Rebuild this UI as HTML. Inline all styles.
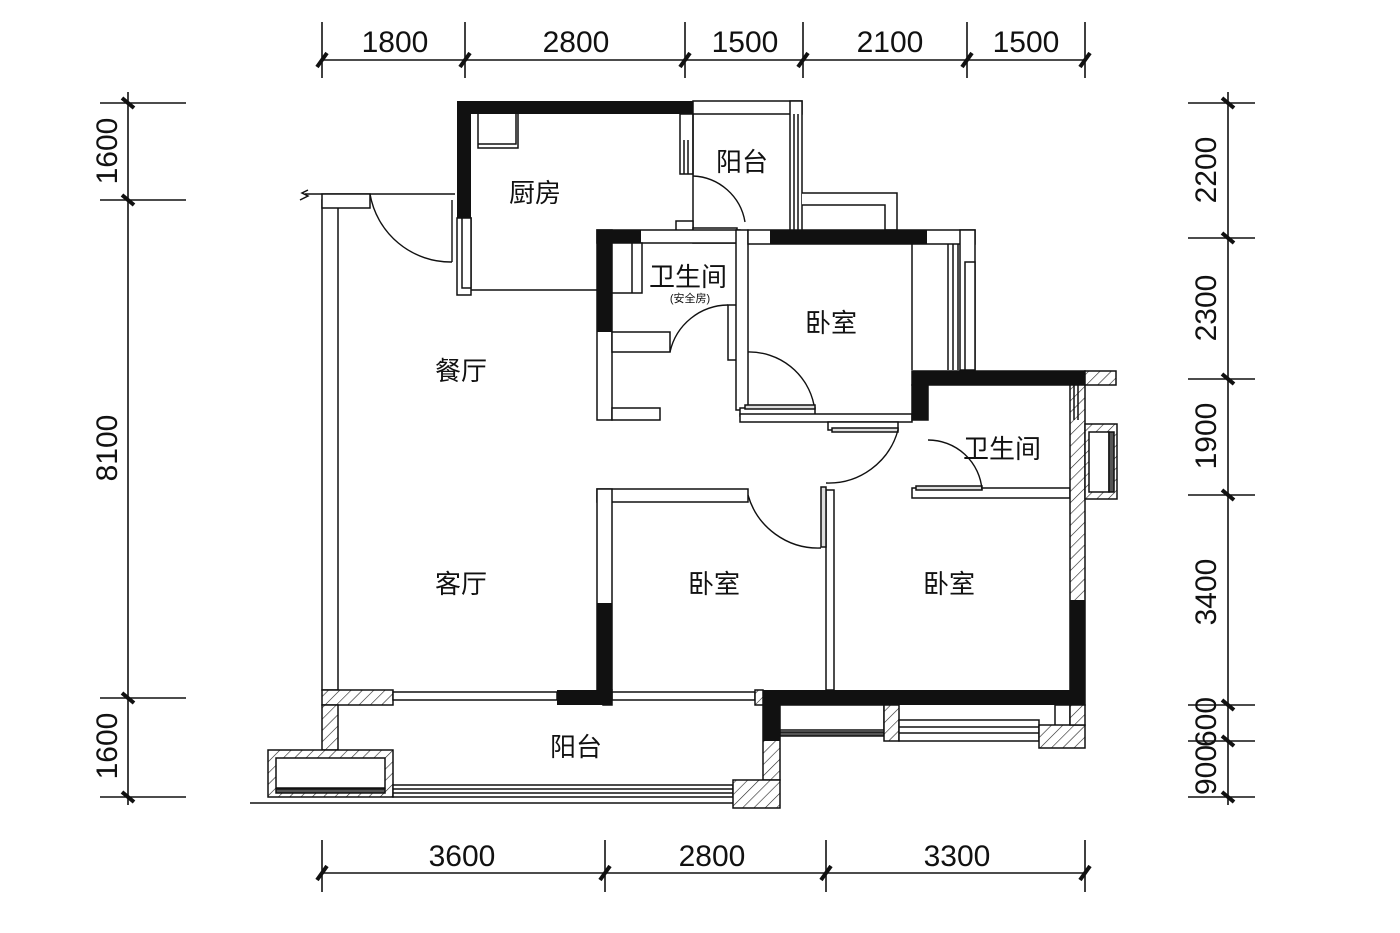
<!DOCTYPE html>
<html><head><meta charset="utf-8"><style>
html,body{margin:0;padding:0;background:#fff;}
svg{display:block}
text{font-family:"Liberation Sans","Noto Sans CJK SC",sans-serif;fill:#111}
.d{font-size:30px}
.r{font-size:26px}
</style></head><body>
<svg width="1400" height="933" viewBox="0 0 1400 933" xmlns="http://www.w3.org/2000/svg">
<defs>
<pattern id="h" width="8" height="8" patternUnits="userSpaceOnUse" patternTransform="rotate(45)">
<rect width="8" height="8" fill="#fff"/><line x1="0" y1="0" x2="0" y2="8" stroke="#222" stroke-width="1.2"/>
</pattern>
</defs>
<g stroke="#111" stroke-width="1.6" fill="none">
<line x1="322" y1="60" x2="1085" y2="60"/>
<g><line x1="322" y1="22" x2="322" y2="78"/><line x1="465" y1="22" x2="465" y2="78"/><line x1="685" y1="22" x2="685" y2="78"/><line x1="803" y1="22" x2="803" y2="78"/><line x1="967" y1="22" x2="967" y2="78"/><line x1="1085" y1="22" x2="1085" y2="78"/></g>
<line x1="322" y1="873" x2="1085" y2="873"/>
<line x1="322" y1="840" x2="322" y2="892"/><line x1="605" y1="840" x2="605" y2="892"/><line x1="826" y1="840" x2="826" y2="892"/><line x1="1085" y1="840" x2="1085" y2="892"/>
<line x1="128" y1="92" x2="128" y2="805"/>
<line x1="100" y1="103" x2="186" y2="103"/><line x1="100" y1="200" x2="186" y2="200"/><line x1="100" y1="698" x2="186" y2="698"/><line x1="100" y1="797" x2="186" y2="797"/>
<line x1="1228" y1="92" x2="1228" y2="805"/>
<line x1="1188" y1="103" x2="1255" y2="103"/><line x1="1188" y1="238" x2="1255" y2="238"/><line x1="1188" y1="379" x2="1255" y2="379"/><line x1="1188" y1="495" x2="1255" y2="495"/><line x1="1188" y1="705" x2="1255" y2="705"/><line x1="1188" y1="741" x2="1255" y2="741"/><line x1="1188" y1="797" x2="1255" y2="797"/>
</g>
<g stroke="#111" stroke-width="4">
<path d="M317 67l10-14M460 67l10-14M680 67l10-14M798 67l10-14M962 67l10-14M1080 67l10-14"/>
<path d="M317 880l10-14M600 880l10-14M821 880l10-14M1080 880l10-14"/>
<path d="M122 98l12 10M122 195l12 10M122 693l12 10M122 792l12 10"/>
<path d="M1222 98l12 10M1222 233l12 10M1222 374l12 10M1222 490l12 10M1222 700l12 10M1222 736l12 10M1222 792l12 10"/>
</g>
<g class="d" text-anchor="middle">
<text x="395" y="52">1800</text><text x="576" y="52">2800</text><text x="745" y="52">1500</text><text x="890" y="52">2100</text><text x="1026" y="52">1500</text>
<text x="462" y="866">3600</text><text x="712" y="866">2800</text><text x="957" y="866">3300</text>
<text transform="translate(117,151) rotate(-90)">1600</text>
<text transform="translate(117,448) rotate(-90)">8100</text>
<text transform="translate(117,746) rotate(-90)">1600</text>
<text transform="translate(1216,170) rotate(-90)">2200</text>
<text transform="translate(1216,308) rotate(-90)">2300</text>
<text transform="translate(1216,436) rotate(-90)">1900</text>
<text transform="translate(1216,592) rotate(-90)">3400</text>
<text transform="translate(1216,722) rotate(-90)">600</text>
<text transform="translate(1216,770) rotate(-90)">900</text>
</g>

<g stroke="#111" stroke-width="1.5" fill="#fff">
<rect x="322" y="200" width="16" height="490"/>
<path d="M305 194H455" fill="none"/>
<path d="M300 200l8-4-6-3 6-3" fill="none"/>
<rect x="322" y="194" width="48" height="14"/>
<rect x="457" y="218" width="14" height="77"/>
<rect x="462" y="218" width="9" height="70"/>
<line x1="471" y1="290" x2="598" y2="290"/>
<rect x="693" y="101" width="109" height="13"/>
<rect x="790" y="101" width="12" height="130"/>
<line x1="794" y1="114" x2="794" y2="230"/><line x1="798" y1="114" x2="798" y2="230"/>
<path d="M802 193H897V230H885V205H802" />
<rect x="680" y="114" width="13" height="60"/>
<line x1="684" y1="140" x2="684" y2="174"/><line x1="688" y1="140" x2="688" y2="174"/>
<path d="M478 114v30h38v-30M478 144v4h40v-34" fill="none"/>
<line x1="693" y1="114" x2="693" y2="230"/>
<rect x="676" y="221" width="17" height="10"/>
<rect x="693" y="228" width="44" height="15"/>
<line x1="693" y1="233" x2="737" y2="233"/><line x1="693" y1="238" x2="737" y2="238"/>
<rect x="597" y="230" width="143" height="13"/>
<rect x="597" y="230" width="15" height="190"/>
<rect x="612" y="243" width="30" height="50"/>
<line x1="632" y1="243" x2="632" y2="293"/>
<rect x="612" y="332" width="58" height="20"/>
<rect x="612" y="408" width="48" height="12"/>
<rect x="728" y="305" width="9" height="55"/>
<rect x="736" y="230" width="12" height="180"/>
<rect x="748" y="230" width="227" height="14"/>
<rect x="960" y="230" width="15" height="140"/>
<line x1="912" y1="244" x2="912" y2="370"/>
<line x1="948" y1="244" x2="948" y2="370"/><line x1="953" y1="244" x2="953" y2="370"/><line x1="958" y1="244" x2="958" y2="370"/>
<rect x="965" y="262" width="10" height="108"/>
<rect x="740" y="408" width="75" height="8"/>
<rect x="745" y="405" width="70" height="4" fill="#ddd"/>
<rect x="740" y="414" width="172" height="8"/>
<rect x="828" y="422" width="70" height="8"/>
<rect x="832" y="428" width="66" height="4" fill="#ddd"/>
<rect x="912" y="371" width="173" height="14"/>
<rect x="912" y="385" width="16" height="35"/>
<rect x="912" y="488" width="158" height="10"/>
<rect x="916" y="486" width="66" height="4" fill="#ddd"/>
<rect x="1070" y="385" width="15" height="320" fill="url(#h)"/>
<line x1="1074" y1="385" x2="1074" y2="420"/><line x1="1078" y1="385" x2="1078" y2="420"/>
<rect x="1085" y="371" width="31" height="14" fill="url(#h)"/>
<rect x="1085" y="424" width="32" height="75" fill="url(#h)"/>
<rect x="1089" y="432" width="20" height="60"/>
<rect x="1109" y="432" width="5" height="60" fill="#555"/>
<rect x="597" y="489" width="151" height="13"/>
<rect x="597" y="489" width="15" height="201"/>
<rect x="826" y="490" width="8" height="200"/>
<rect x="821" y="487" width="5" height="60" fill="#ddd"/>
<rect x="322" y="690" width="71" height="15" fill="url(#h)"/>
<rect x="393" y="692" width="164" height="8"/>
<rect x="612" y="692" width="143" height="8"/>
<rect x="603" y="690" width="9" height="15" fill="url(#h)"/>
<rect x="755" y="690" width="8" height="15" fill="url(#h)"/>
<rect x="322" y="705" width="16" height="45" fill="url(#h)"/>
<rect x="268" y="750" width="125" height="47" fill="url(#h)"/>
<rect x="276" y="758" width="109" height="30"/>
<rect x="276" y="789" width="109" height="4" fill="#555"/>
<rect x="393" y="785" width="340" height="12"/>
<line x1="393" y1="789" x2="733" y2="789"/><line x1="393" y1="793" x2="733" y2="793"/>
<line x1="250" y1="803" x2="733" y2="803"/>
<rect x="763" y="705" width="17" height="75" fill="url(#h)"/>
<rect x="733" y="780" width="47" height="28" fill="url(#h)"/>
<rect x="780" y="705" width="104" height="25"/>
<rect x="780" y="732" width="104" height="4" fill="#555"/>
<rect x="884" y="705" width="15" height="36" fill="url(#h)"/>
<rect x="899" y="720" width="140" height="21"/>
<line x1="899" y1="727" x2="1039" y2="727"/><line x1="899" y1="733" x2="1039" y2="733"/>
<rect x="1055" y="705" width="15" height="25"/>
<rect x="1039" y="725" width="46" height="23" fill="url(#h)"/>
<rect x="1070" y="705" width="15" height="20" fill="url(#h)"/>
</g>
<g fill="#111">
<rect x="457" y="101" width="236" height="13"/>
<rect x="457" y="101" width="14" height="117"/>
<rect x="597" y="230" width="15" height="102"/>
<rect x="597" y="230" width="44" height="13"/>
<rect x="770" y="230" width="157" height="14"/>
<rect x="912" y="371" width="173" height="14"/>
<rect x="912" y="371" width="16" height="49"/>
<rect x="1070" y="600" width="15" height="105"/>
<rect x="597" y="603" width="15" height="102"/>
<rect x="557" y="690" width="55" height="15"/>
<rect x="763" y="690" width="322" height="15"/>
<rect x="763" y="705" width="17" height="36"/>
<rect x="1055" y="690" width="30" height="15"/>
</g>
<g stroke="#111" stroke-width="1.4" fill="none">
<path d="M370 194A82 82 0 0 0 452 262"/><line x1="452" y1="200" x2="452" y2="262"/>
<path d="M693 176A55 55 0 0 1 745 222"/>
<path d="M670 352A60 60 0 0 1 728 305"/>
<path d="M748 352A66 66 0 0 1 814 405"/>
<path d="M898 430A72 72 0 0 1 826 483"/>
<path d="M748 495A73 73 0 0 0 821 548"/>
<path d="M928 440A54 54 0 0 1 982 490"/>
</g>
<g class="r" text-anchor="middle">
<text x="535" y="202">厨房</text>
<text x="742" y="171">阳台</text>
<text x="688" y="286">卫生间</text>
<text x="831" y="332">卧室</text>
<text x="461" y="380">餐厅</text>
<text x="1002" y="458">卫生间</text>
<text x="461" y="593">客厅</text>
<text x="714" y="593">卧室</text>
<text x="949" y="593">卧室</text>
<text x="576" y="756">阳台</text>
<text x="690" y="302" style="font-size:11px">(安全房)</text>
</g>
</svg>
</body></html>
